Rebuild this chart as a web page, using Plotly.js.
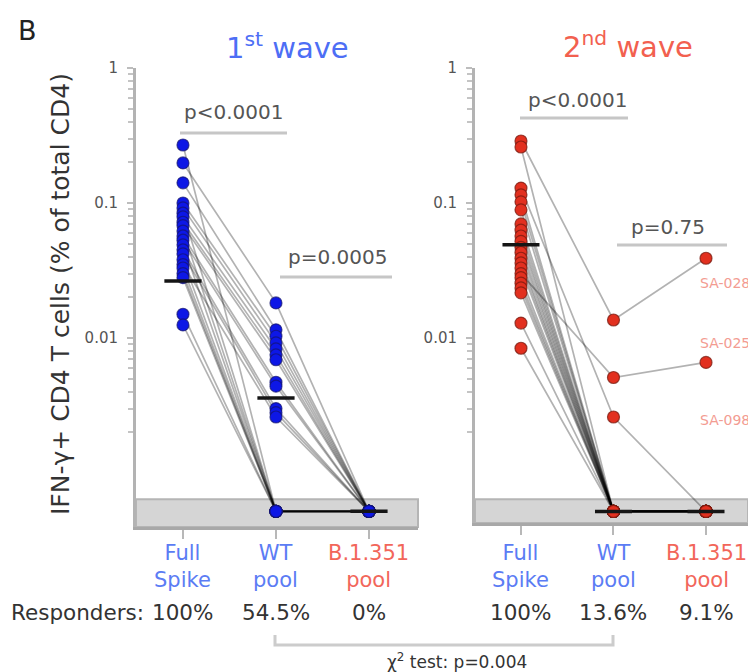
<!DOCTYPE html>
<html>
<head>
<meta charset="utf-8">
<script src="https://cdn.plot.ly/plotly-3.0.1.min.js"></script>
<style>html,body{margin:0;padding:0;background:#fff;}#chart{width:748px;height:672px;}</style>
</head>
<body>
<div id="chart"></div>
<script>
// ---------------- DATA ----------------
const categories = ['Full<br>Spike', 'WT<br>pool', 'B.1.351<br>pool'];
const categoryColors = ['#5b7cf4', '#5b7cf4', '#f2665a'];
const waveTitles = ['1<sup>st</sup> wave', '2<sup>nd</sup> wave'];
const responders1 = ['100%', '54.5%', '0%'];
const responders2 = ['100%', '13.6%', '9.1%'];

// % IFN-γ+ of total CD4 per donor (0 = non-responder, drawn on the detection floor)
const wave1FullSpike = [0.269, 0.198, 0.141, 0.100, 0.092, 0.084, 0.079, 0.072, 0.068, 0.062, 0.057,
                        0.053, 0.049, 0.045, 0.042, 0.038, 0.035, 0.033, 0.030, 0.028, 0.015, 0.0125];
const wave1WT       = [0, 0.0182, 0.0115, 0.0103, 0.0092, 0, 0.0083, 0.0075, 0.0069, 0, 0.0047,
                       0.0044, 0, 0.0030, 0.0028, 0, 0.0026, 0, 0, 0, 0, 0];
const wave1B1351    = [0, 0, 0, 0, 0, 0, 0, 0, 0, 0, 0, 0, 0, 0, 0, 0, 0, 0, 0, 0, 0, 0];
const wave1Median   = [0.0264, 0.0036, 0];

const wave2FullSpike = [0.288, 0.260, 0.129, 0.115, 0.102, 0.089, 0.070, 0.063, 0.057, 0.052, 0.047,
                        0.043, 0.039, 0.036, 0.033, 0.030, 0.028, 0.0255, 0.0235, 0.0216, 0.0129, 0.0084];
const wave2WT       = [0.0136, 0, 0.0026, 0, 0, 0, 0, 0, 0, 0, 0, 0, 0, 0, 0, 0.0051, 0, 0, 0, 0, 0, 0];
const wave2B1351    = [0.039, 0, 0, 0, 0, 0, 0, 0, 0, 0, 0, 0, 0, 0, 0, 0.0066, 0, 0, 0, 0, 0, 0];
const wave2Median   = [0.049, 0, 0];

const yTickVals = [0.01, 0.1, 1];
const yTickText = ['0.01', '0.1', '1'];
const pTexts1 = ['p<0.0001', 'p=0.0005'];
const pTexts2 = ['p<0.0001', 'p=0.75'];
const donorLabels = ['SA-028', 'SA-025', 'SA-098'];
const chiText = 'χ<sup>2</sup> test: p=0.004';

// ---------------- STYLE / HELPERS ----------------
const FLOOR = 0.00052;      // plotting position of non-responders
const BAND_TOP = 0.00064;   // top of grey "not detected" band
const W = 748, H = 672;
const FONT = 'DejaVu Sans, Liberation Sans, Arial, sans-serif';
const px = x => x / W;
const py = y => 1 - y / H;
const plotVal = v => (v > 0 ? v : FLOOR);
const RANGE1 = [-3.4, 0], RANGE2 = [-3.37, 0];

function waveTraces(fs, wt, b, median, xa, ya, color, lineCol) {
  const traces = [];
  for (let i = 0; i < fs.length; i++) {
    traces.push({
      type: 'scatter', mode: 'lines', xaxis: xa, yaxis: ya, hoverinfo: 'skip',
      x: [0, 1, 2], y: [plotVal(fs[i]), plotVal(wt[i]), plotVal(b[i])],
      line: {color: 'rgba(0,0,0,0.3)', width: 1.7}
    });
  }
  [fs, wt, b].forEach((arr, c) => {
    traces.push({
      type: 'scatter', mode: 'markers', xaxis: xa, yaxis: ya,
      x: arr.map(() => c), y: arr.map(plotVal),
      marker: {size: 12, color: color, line: {color: lineCol, width: 1.2}}
    });
  });
  median.forEach((m, c) => {
    traces.push({
      type: 'scatter', mode: 'lines', xaxis: xa, yaxis: ya, hoverinfo: 'skip',
      x: [c - 0.2, c + 0.2], y: [plotVal(m), plotVal(m)],
      line: {color: '#151515', width: 3.5}
    });
  });
  return traces;
}

const data = [
  ...waveTraces(wave1FullSpike, wave1WT, wave1B1351, wave1Median, 'x', 'y', '#0d17e6', 'rgba(20,20,110,0.7)'),
  ...waveTraces(wave2FullSpike, wave2WT, wave2B1351, wave2Median, 'x2', 'y2', '#e2301f', 'rgba(120,25,15,0.75)')
];

// minor tick positions: 2..9 × decade (down to 0.002)
const minorVals = [];
[0.001, 0.01, 0.1].forEach(d => {
  for (let k = 2; k <= 9; k++) {
    const v = +(d * k).toPrecision(3);
    if (v >= 0.002) minorVals.push(v);
  }
});

function yAxis(domain, range, anchor) {
  return {
    domain, range, type: 'log', anchor,
    showline: true, linecolor: '#b3b3b3', linewidth: 3,
    ticks: 'outside', ticklen: 6, tickwidth: 2, tickcolor: '#bdbdbd',
    tickmode: 'array', tickvals: yTickVals, ticktext: yTickText,
    minor: {tickmode: 'array', tickvals: minorVals, ticks: 'outside', ticklen: 5, tickwidth: 2,
            tickcolor: '#c4c4c4', showgrid: false},
    tickfont: {family: FONT, size: 15, color: '#555'},
    ticklabelstandoff: 6,
    showgrid: false, zeroline: false, fixedrange: true
  };
}
function xAxis(domain, range, anchor) {
  return {
    domain, range, anchor,
    showline: true, linecolor: '#a8a8a8', linewidth: 3,
    ticks: 'outside', ticklen: 9, tickwidth: 2, tickcolor: '#b8b8b8',
    tickmode: 'array', tickvals: [0, 1, 2], showticklabels: false,
    showgrid: false, zeroline: false, fixedrange: true
  };
}

const annotations = [];
const A = (o) => annotations.push(Object.assign({showarrow: false, xref: 'paper', yref: 'paper',
  xanchor: 'center', yanchor: 'middle'}, o));

A({x: px(28), y: py(31), text: 'B', font: {family: FONT, size: 27, color: '#222'}});
A({x: px(287), y: py(46), text: waveTitles[0], font: {family: FONT, size: 29, color: '#4d6ef5'}});
A({x: px(628), y: py(45), text: waveTitles[1], font: {family: FONT, size: 29, color: '#f2604f'}});
A({x: px(60), y: py(294), textangle: -90, text: 'IFN-γ+ CD4 T cells (% of total CD4)',
   font: {family: FONT, size: 25, color: '#333'}});

categories.forEach((c, i) => {
  ['x', 'x2'].forEach(xr => {
    A({xref: xr, x: i, y: py(566), text: c, font: {family: FONT, size: 21, color: categoryColors[i]}});
  });
});
A({x: px(146), xanchor: 'right', y: py(612), text: 'Responders:', font: {family: FONT, size: 21.5, color: '#333'}});
responders1.forEach((r, i) => A({xref: 'x', x: i, y: py(612), text: r, font: {family: FONT, size: 21.5, color: '#333'}}));
responders2.forEach((r, i) => A({xref: 'x2', x: i, y: py(612), text: r, font: {family: FONT, size: 21.5, color: '#333'}}));

const pPos = [[233, 112], [337, 257], [577, 100], [668, 227]];
[...pTexts1, ...pTexts2].forEach((t, i) => {
  A({x: px(pPos[i][0]), y: py(pPos[i][1]), text: t, font: {family: FONT, size: 20, color: '#555'}});
});
const labelY = [283, 343, 420];
donorLabels.forEach((t, i) => A({x: px(698), xanchor: 'left', y: py(labelY[i]), text: t,
  font: {family: FONT, size: 14, color: '#f39c92'}}));
A({x: px(457), y: py(661), text: chiText, font: {family: FONT, size: 17, color: '#333'}});

const shapes = [];
// grey "not detected" bands
[['x', 'y', RANGE1], ['x2', 'y2', RANGE2]].forEach(([xr, yr, rg]) => {
  const top = (Math.log10(BAND_TOP) - rg[0]) / (rg[1] - rg[0]);
  shapes.push({type: 'rect', xref: xr + ' domain', yref: yr + ' domain', x0: 0, x1: 1, y0: 0, y1: top,
    fillcolor: '#d5d5d5', line: {color: '#b5b5b5', width: 2}, layer: 'below'});
});
// p-value underlines
[[180, 287, 133], [280, 392, 277], [520, 628, 118], [617, 727, 245]].forEach(([a, b, y]) => {
  shapes.push({type: 'line', xref: 'paper', yref: 'paper', x0: px(a), x1: px(b), y0: py(y), y1: py(y),
    line: {color: '#c6c6c6', width: 3}});
});
// chi-square bracket
shapes.push({type: 'path', xref: 'paper', yref: 'paper',
  path: `M ${px(275)} ${py(635)} L ${px(275)} ${py(645)} L ${px(613)} ${py(645)} L ${px(613)} ${py(635)}`,
  line: {color: '#cccccc', width: 3}});

const layout = {
  width: W, height: H,
  margin: {l: 0, r: 0, t: 0, b: 0},
  paper_bgcolor: '#ffffff', plot_bgcolor: 'rgba(0,0,0,0)',
  showlegend: false,
  font: {family: FONT},
  xaxis: xAxis([px(136), px(418)], [-0.505, 2.527], 'y'),
  yaxis: yAxis([py(527), py(68)], RANGE1, 'x'),
  xaxis2: xAxis([px(475), 1], [-0.497, 2.454], 'y2'),
  yaxis2: yAxis([py(523), py(68)], RANGE2, 'x2'),
  annotations, shapes
};

Plotly.newPlot('chart', data, layout, {staticPlot: true, displayModeBar: false});
</script>
</body>
</html>
